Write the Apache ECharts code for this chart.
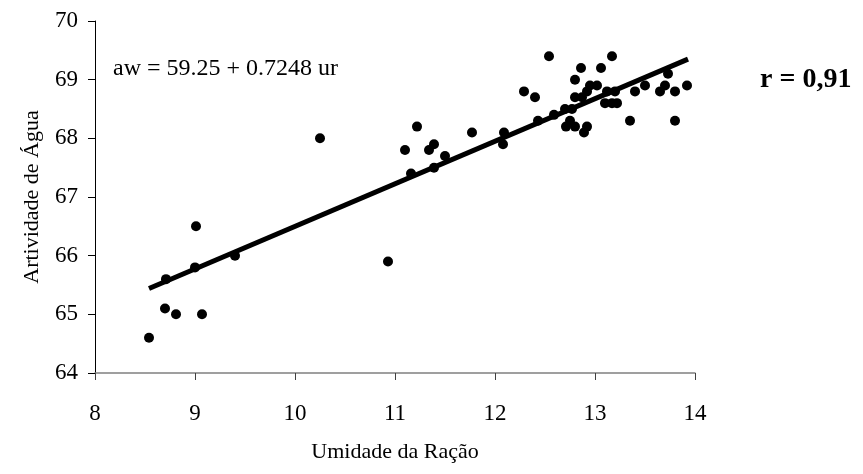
<!DOCTYPE html>
<html>
<head>
<meta charset="utf-8">
<script src="https://cdn.jsdelivr.net/npm/echarts@6/dist/echarts.min.js"></script>
<style>html,body{margin:0;padding:0;background:#fff}#c{width:863px;height:474px}</style>
</head>
<body>
<div id="c"></div>
<script>
const umidade = [8.54,8.70,8.81,9.07,9.01,8.71,9.00,9.40,10.25,10.93,11.10,11.22,11.34,11.39,11.50,11.16,11.39,11.77,12.09,12.08,12.29,12.40,12.43,12.54,12.59,12.70,12.77,12.71,12.80,12.75,12.80,12.80,12.86,12.87,12.92,12.95,13.02,12.92,12.89,13.06,13.17,13.12,13.20,13.10,13.17,13.22,13.35,13.40,13.50,13.65,13.70,13.73,13.80,13.80,13.92];
const atividade = [64.6,65.1,65.0,65.0,66.5,65.6,65.8,66.0,68.0,65.9,67.8,68.2,67.8,67.9,67.7,67.4,67.5,68.1,68.1,67.9,68.8,68.7,68.3,69.4,68.4,68.5,68.5,68.2,68.2,68.3,69.0,68.7,69.2,68.7,68.8,68.9,68.9,68.2,68.1,69.2,69.4,68.8,68.8,68.6,68.6,68.6,68.3,68.8,68.9,68.8,68.9,69.1,68.8,68.3,68.9];
const trendX = [8.54, 13.93];
const trendY = [65.44, 69.35];
const xTicks = [8,9,10,11,12,13,14];
const yTicks = [64,65,66,67,68,69,70];
const equationText = 'aw = 59.25 + 0.7248 ur';
const rText = 'r = 0,91';
const xName = 'Umidade da Ração';
const yName = 'Artividade de Água';

const font = 'Liberation Serif';
const chart = echarts.init(document.getElementById('c'), null, {renderer:'canvas'});
chart.setOption({
  backgroundColor:'#fff',
  animation:false,
  grid:{left:95, right:168, top:21, bottom:101},
  xAxis:{type:'value', min:xTicks[0], max:xTicks[xTicks.length-1], interval:1,
    name:xName, nameLocation:'middle', nameGap:68,
    nameTextStyle:{fontFamily:font, fontSize:22, color:'#000'},
    axisLine:{lineStyle:{color:'#808080', width:1.5}},
    axisTick:{length:7, lineStyle:{color:'#404040'}},
    axisLabel:{fontFamily:font, fontSize:23, color:'#000', margin:29},
    splitLine:{show:false}},
  yAxis:{type:'value', min:yTicks[0], max:yTicks[yTicks.length-1], interval:1,
    name:yName, nameLocation:'middle', nameGap:52,
    nameTextStyle:{fontFamily:font, fontSize:22, color:'#000'},
    axisLine:{lineStyle:{color:'#000', width:1}},
    axisTick:{length:7, lineStyle:{color:'#000'}},
    axisLabel:{fontFamily:font, fontSize:23, color:'#000', margin:17},
    splitLine:{show:false}},
  graphic:[
    {type:'text', left:113, top:57, style:{text:equationText, font:'24px "Liberation Serif"', fill:'#000'}},
    {type:'text', left:760, top:66, style:{text:rText, font:'bold 28px "Liberation Serif"', fill:'#000'}}
  ],
  series:[
    {type:'scatter', data:umidade.map((x,i)=>[x, atividade[i]]), symbolSize:10, itemStyle:{color:'#000', opacity:1}, z:3},
    {type:'line', data:trendX.map((x,i)=>[x, trendY[i]]), symbol:'none', lineStyle:{color:'#000', width:5}, z:4}
  ]
});
</script>
</body>
</html>
